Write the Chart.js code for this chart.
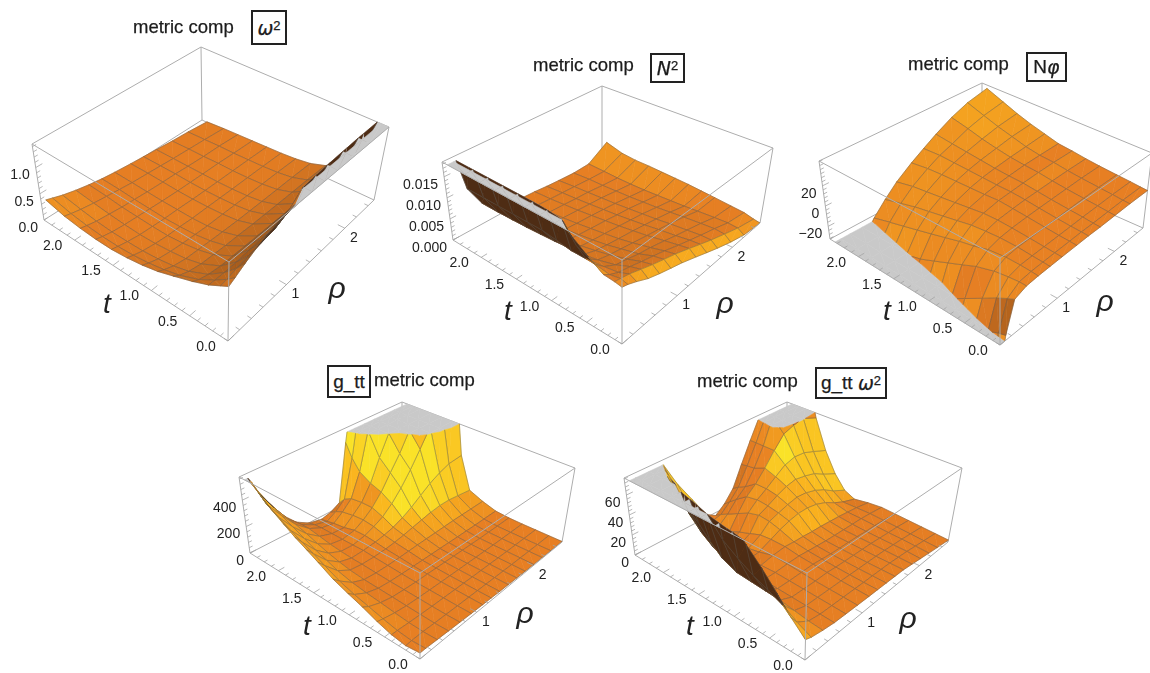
<!DOCTYPE html>
<html>
<head>
<meta charset="utf-8">
<title>metric comp</title>
<script src="https://cdn.jsdelivr.net/npm/chart.js@4/dist/chart.umd.min.js"></script>
<style>
  html, body { margin: 0; padding: 0; background: #fff; }
  #wrap { position: relative; width: 1150px; height: 673px; overflow: hidden; filter: blur(0.5px); }
  #plot { position: absolute; left: 0; top: 0; }
  .ttl { position: absolute; font: 18.5px "Liberation Sans", Arial, sans-serif; color: #1c1c1c; white-space: nowrap; line-height: 22px; -webkit-text-stroke: .25px #1c1c1c; }
  .bx { position: absolute; box-sizing: border-box; border: 2px solid #222; background: #fff; color: #1c1c1c;
        font: 19px "Liberation Sans", Arial, sans-serif; display: flex; align-items: center; justify-content: center; white-space: nowrap; -webkit-text-stroke: .25px #1c1c1c; }
  .bx i { font-family: "DejaVu Sans", sans-serif; }
  .bx sup { font-size: 13px; line-height: 0; position: relative; top: -2px; vertical-align: super; }
</style>
</head>
<body>
<div id="wrap"><canvas id="plot" width="1150" height="673"></canvas></div>
<script>
// sample positions, surfaces 1-3
const tA = [0, .1, .25, .45, .7, .9, 1.1, 1.3, 1.5, 1.7, 1.9, 2.1, 2.33];
const rhoA = [0, .1, .25, .45, .65, .85, 1.05, 1.3, 1.5, 1.7, 1.95, 2.2, 2.5];
// sample positions, surfaces 4-5
const tB = [0, .2, .4, .6, .8, 1, 1.2, 1.4, 1.55, 1.7, 1.85, 2, 2.15, 2.25, 2.33];
const rhoB = [0, .1, .3, .5, .7, .9, 1.1, 1.25, 1.4, 1.55, 1.7, 1.85, 2, 2.15, 2.3, 2.5];

const omega2 = [
  [1.00, 1.06, 1.16, 1.28, 1.36, 1.42, 1.50, 1.70, 1.90, 2.10, 2.40, 2.70, 3.00],
  [.92, .94, .99, 1.03, 1.07, 1.11, 1.22, 1.50, 1.56, 1.60, 1.64, 1.68, 1.70],
  [.80, .79, .78, .78, .80, .81, .84, .88, .90, .92, .94, .95, .95],
  [.68, .62, .57, .53, .52, .51, .50, .49, .48, .47, .47, .46, .46],
  [.55, .47, .40, .35, .33, .31, .30, .28, .27, .26, .25, .24, .22],
  [.45, .39, .32, .27, .25, .23, .21, .19, .18, .17, .16, .15, .13],
  [.38, .33, .27, .23, .20, .18, .16, .15, .14, .13, .12, .11, .09],
  [.33, .29, .24, .20, .17, .16, .14, .13, .12, .11, .10, .09, .07],
  [.30, .27, .23, .19, .17, .15, .14, .12, .11, .10, .09, .08, .06],
  [.30, .27, .23, .20, .18, .16, .14, .12, .11, .10, .09, .07, .05],
  [.32, .29, .25, .22, .19, .17, .15, .13, .12, .10, .08, .07, .04],
  [.36, .33, .29, .25, .22, .19, .16, .14, .12, .10, .08, .06, .03],
  [.45, .41, .35, .29, .24, .20, .17, .14, .12, .10, .07, .05, .01]
];
// N^2 in thousandths
const nSquared = [
  [12.5, 12.1, 11.2, 9.8, 8.8, 7.9, 7, 5.6, 4.4, 3.2, 1.8, .6, 0],
  [12.8, 12.5, 12, 11, 10, 9.1, 8.2, 6.8, 5.6, 4.4, 3, 1.6, .3],
  [13, 12, 11, 10.3, 9.4, 8.6, 7.7, 6.4, 5.4, 4.4, 3.2, 1.8, .9],
  [15, 12.5, 10.5, 8.9, 8.2, 7.4, 6.8, 5.8, 4.9, 4.1, 3, 1.7, 1.2],
  [18, 14.5, 10, 7.8, 7, 6.4, 5.8, 5, 4.4, 3.7, 2.7, 1.5, 1.6],
  [22, 19, 10, 7.2, 6.2, 5.6, 5.1, 4.5, 3.9, 3.3, 2.4, 1.3, 1.9],
  [24, 20.5, 10.5, 6.9, 5.5, 5, 4.6, 4, 3.5, 3, 2.1, 1.2, 2.2],
  [25, 21, 11, 6.6, 5, 4.5, 4.1, 3.6, 3.1, 2.7, 1.9, 1.1, 2.4],
  [25, 21, 11, 6.4, 4.6, 4, 3.6, 3.2, 2.8, 2.4, 1.7, 1, 2.6],
  [25, 21, 11, 6.2, 4.2, 3.5, 3.2, 2.8, 2.5, 2.2, 1.6, 1, 2.8],
  [25, 21, 11, 6.1, 4, 3.2, 2.8, 2.5, 2.2, 2, 1.5, 1.1, 2.9],
  [25, 21, 11, 6, 4, 3, 2.5, 2.2, 2, 1.8, 1.5, 1.3, 3.3],
  [25, 21, 11, 6, 4, 3, 2.2, 2, 1.7, 1.5, 1.3, 1.5, 4.5]
];
const nPhi = [
  [-60, -28, -2, 2, 3, 3.5, 4, 4.5, 5, 5, 5.5, 6, 6],
  [-60, -30, -5, 2, 3.5, 4, 4.5, 5, 5.5, 5.5, 6, 6.5, 6.5],
  [-60, -34, -10, 1, 4, 4.5, 5, 5.5, 6, 6.5, 7, 7.5, 7.5],
  [-70, -40, -18, -1, 4, 5.5, 6, 6.5, 7, 7.5, 8, 8.5, 8.5],
  [-80, -50, -28, -6, 2, 5.5, 7, 8, 8.5, 9, 9.5, 10, 10],
  [-80, -60, -36, -12, -2, 4.5, 7.5, 9, 10, 10.5, 11, 11.5, 11.5],
  [-90, -70, -45, -18, -5, 3, 7, 10, 11, 12, 13, 13.5, 13.5],
  [-90, -70, -50, -24, -9, 0, 5, 9, 11, 12.5, 14, 14.5, 15],
  [-90, -80, -55, -30, -13, -3, 3, 8.5, 11.5, 13.5, 15.5, 17, 19],
  [-100, -80, -60, -34, -17, -6, 1, 8, 12, 15, 18, 21, 23],
  [-100, -90, -65, -38, -21, -9, -1, 7.5, 12.5, 16.5, 21, 25, 28],
  [-100, -90, -70, -42, -25, -13, -3, 6.5, 13, 18, 25, 30, 34],
  [-100, -90, -75, -45, -30, -18, -7, 4, 12, 20, 29, 36, 41]
];
const gTT = [
  [40, 40, 36, 32, 28, 24, 20, 18, 15, 13, 11, 9, 7, 6, 5, 4],
  [30, 34, 34, 30, 27, 24, 21, 19, 17, 15, 13, 11, 9, 8, 7, 6],
  [45, 44, 38, 33, 29, 26, 23, 21, 19, 17, 15, 13, 11, 10, 9, 8],
  [75, 65, 48, 37, 32, 28, 25, 23, 21, 19, 17, 15, 13, 12, 11, 10],
  [115, 90, 60, 42, 35, 30, 28, 26, 24, 22, 20, 18, 16, 15, 14, 14],
  [150, 115, 70, 46, 38, 34, 32, 31, 30, 29, 28, 26, 25, 24, 24, 24],
  [190, 150, 85, 50, 42, 40, 42, 45, 48, 50, 52, 54, 56, 56, 56, 56],
  [250, 200, 110, 60, 48, 46, 50, 58, 70, 85, 100, 115, 125, 125, 115, 100],
  [295, 240, 140, 75, 50, 52, 60, 72, 90, 120, 160, 210, 260, 300, 330, 340],
  [340, 280, 170, 95, 56, 50, 68, 95, 130, 190, 270, 370, 490, 620, 780, 1000],
  [395, 320, 210, 120, 65, 50, 66, 105, 160, 240, 350, 460, 600, 800, 1000, 1200],
  [455, 370, 250, 150, 80, 50, 45, 100, 160, 270, 430, 580, 680, 850, 1050, 1300],
  [530, 420, 290, 175, 95, 50, 35, 85, 150, 320, 600, 800, 1000, 1100, 1200, 1400],
  [600, 480, 320, 185, 95, 45, 22, 60, 120, 400, 780, 1000, 1100, 1200, 1300, 1500],
  [640, 520, 340, 190, 90, 35, 15, 32, 70, 500, 900, 1100, 1200, 1300, 1400, 1600]
];
const gTTomega2 = [
  [18, 16, 14, 12.5, 12, 11.5, 11, 10.8, 10.5, 10.2, 9.8, 8.5, 7, 5.5, 4, 2],
  [30, 22, 15, 13, 12.5, 12, 11.5, 11, 10.8, 10.4, 10, 9, 8, 6.5, 5, 3],
  [45, 30, 17, 13.5, 13, 12.5, 12, 11.5, 11, 10.6, 10.2, 9.5, 8.5, 7.5, 6, 4],
  [60, 36, 19, 14, 13.5, 13, 13, 12, 11.5, 11, 10.5, 10, 9, 8, 7, 5],
  [74, 42, 20, 14.5, 14, 14, 14, 13, 12, 11.5, 11, 10.5, 9.5, 9, 8, 6],
  [90, 50, 21, 15, 14.5, 15, 15, 14, 13, 12, 11.5, 11, 10.5, 10, 9, 7],
  [105, 60, 22, 15, 14, 16, 17, 16, 15.5, 14.5, 14, 13, 12, 10.5, 9, 6],
  [115, 78, 28, 14, 11, 12, 17, 21, 24, 26, 26, 24, 20, 14, 9, 4],
  [125, 90, 38, 16, 10, 10, 16, 24, 27, 30, 32, 31, 28, 23, 16, 9],
  [135, 100, 50, 20, 8, 6, 12, 25, 29, 34, 38, 40, 38, 35, 29, 22],
  [145, 110, 60, 28, 10, 4, 8, 22, 30, 36, 43, 50, 53, 52, 48, 42],
  [155, 120, 80, 40, 15, 5, 3, 16, 28, 36, 47, 60, 72, 76, 78, 72],
  [165, 130, 90, 55, 28, 10, 3, 10, 20, 28, 42, 60, 85, 105, 115, 120],
  [175, 140, 100, 70, 42, 18, 4, 6, 14, 24, 41, 60, 82, 130, 150, 170],
  [185, 150, 105, 80, 52, 30, 8, 2, 9, 20, 40, 60, 80, 140, 160, 190]
];

const tTicks = [0, .5, 1, 1.5, 2];
const tTickLabels = ['0.0', '0.5', '1.0', '1.5', '2.0'];
const rhoTicks = [1, 2];
const rhoTickLabels = ['1', '2'];
const zTicks1 = [0, .5, 1], zLabels1 = ['0.0', '0.5', '1.0'];
const zTicks2 = [0, 5, 10, 15], zLabels2 = ['0.000', '0.005', '0.010', '0.015'];
const zTicks3 = [-20, 0, 20], zLabels3 = ['\u221220', '0', '20'];
const zTicks4 = [0, 200, 400], zLabels4 = ['0', '200', '400'];
const zTicks5 = [0, 20, 40, 60], zLabels5 = ['0', '20', '40', '60'];

const T_MAX = 2.4, RHO_MAX = 2.5;

// box corners on the page: [floor x, floor y, top x, top y]
const panels = [
  { ts: tA, rhos: rhoA, zs: omega2, zMin: 0, zMax: 1.45, zTicks: zTicks1, zLabels: zLabels1,
    front: [228, 341, 229, 262], left: [44, 220, 32, 144], right: [374, 200, 389, 127], back: [202, 120, 201, 47],
    tPos: [107, 305], rhoPos: [337, 290] },
  { ts: tA, rhos: rhoA, zs: nSquared, zMin: 0, zMax: 18.5, zTicks: zTicks2, zLabels: zLabels2,
    front: [622, 344, 622, 260], left: [453, 240, 442, 162], right: [760, 223, 773, 148], back: [602, 158, 602, 86],
    tPos: [508, 312], rhoPos: [725, 305] },
  { ts: tA, rhos: rhoA, zs: nPhi, zMin: -32.5, zMax: 44.5, zTicks: zTicks3, zLabels: zLabels3,
    front: [1000, 345, 1000, 258], left: [830, 239, 819, 161], right: [1143, 228, 1152, 153], back: [982, 157, 982, 83],
    tPos: [887, 312], rhoPos: [1105, 303] },
  { ts: tB, rhos: rhoB, zs: gTT, zMin: 0, zMax: 575, zTicks: zTicks4, zLabels: zLabels4,
    front: [420, 659, 420, 573], left: [250, 553, 239, 477], right: [562, 542, 575, 468], back: [402, 475, 402, 402],
    tPos: [307, 627], rhoPos: [525, 615] },
  { ts: tB, rhos: rhoB, zs: gTTomega2, zMin: 0, zMax: 77, zTicks: zTicks5, zLabels: zLabels5,
    front: [805, 660, 807, 573], left: [635, 555, 624, 478], right: [948, 542, 962, 468], back: [787, 475, 787, 402],
    tPos: [690, 627], rhoPos: [908, 620] }
];

const titles = [
  { text: 'metric comp', x: 133, y: 16, box: [251, 10, 36, 35], html: '<i>\u03c9</i><sup>2</sup>' },
  { text: 'metric comp', x: 533, y: 54, box: [650, 53, 35, 30], html: '<i>N</i><sup>2</sup>' },
  { text: 'metric comp', x: 908, y: 53, box: [1026, 52, 41, 30], html: 'N<i>\u03c6</i>' },
  { text: 'metric comp', x: 374, y: 369, box: [327, 365, 44, 33], html: 'g_tt' },
  { text: 'metric comp', x: 697, y: 370, box: [815, 367, 72, 32], html: 'g_tt&nbsp;<i>\u03c9</i><sup>2</sup>' }
];

// box coordinates to page, bilinear between the corners
function project(p, t, rho, z) {
  const u = t / T_MAX, v = rho / RHO_MAX, w = (z - p.zMin) / (p.zMax - p.zMin);
  const at = k => (1 - u) * (1 - v) * p.front[k] + u * (1 - v) * p.left[k] + (1 - u) * v * p.right[k] + u * v * p.back[k];
  const fx = at(0), fy = at(1), tx = at(2), ty = at(3);
  return { x: fx + (tx - fx) * w, y: fy + (ty - fy) * w };
}

// keep the side of a polygon below (sign 1) or above (sign -1) z = lim
function clipZ(poly, lim, sign) {
  const out = [];
  for (let i = 0; i < poly.length; i++) {
    const a = poly[i], b = poly[(i + 1) % poly.length];
    const ina = sign * (lim - a[2]) >= 0, inb = sign * (lim - b[2]) >= 0;
    if (ina) out.push(a);
    if (ina !== inb) {
      const f = (lim - a[2]) / (b[2] - a[2]);
      out.push([a[0] + (b[0] - a[0]) * f, a[1] + (b[1] - a[1]) * f, lim]);
    }
  }
  return out;
}

function mix(a, b, f) { return a.map((v, i) => Math.round(v + (b[i] - v) * f)); }
const C_DARK = [105, 58, 20], C_MID = [231, 127, 35], C_AMBER = [250, 178, 30], C_YELLOW = [250, 226, 40], C_UNDER = [78, 44, 20];

function shade(gt, gr) {
  let s;
  if (gt > .08) {
    s = Math.min(.7, gt * .9);
    if (gr > 0) s += .8 * Math.min(gt, gr);
  } else {
    s = Math.min(gt, 0) * .7 + Math.min(Math.max(gr, 0), .4) * .7 - Math.max(gr - .8, 0) * .6 + Math.min(gr, 0) * .2;
  }
  s = Math.max(-1, Math.min(1, s));
  let c;
  if (s < 0) c = mix(C_MID, C_DARK, -s);
  else if (s < .5) c = mix(C_MID, C_AMBER, s * 2);
  else c = mix(C_AMBER, C_YELLOW, (s - .5) * 2);
  return `rgb(${c[0]},${c[1]},${c[2]})`;
}

const datasets = [];
const lineDs = (pts, color, width) => ({ data: pts, showLine: true, fill: false, borderColor: color, borderWidth: width, pointRadius: 0, spanGaps: false });
const polyDs = (pts, color) => ({ data: pts.concat([pts[0]]), showLine: true, fill: 'shape', backgroundColor: color, borderColor: color, borderWidth: .6, pointRadius: 0 });
const BOX = '#adadad';
const MESH = 'rgba(88,84,80,0.5)';

panels.forEach(p => {
  const zTop = p.zMax, zBot = p.zMin;
  const range = p.zMax - p.zMin;
  const clampz = v => Math.max(p.zMin, Math.min(p.zMax, v));
  const edge = (a, b) => lineDs([{ x: a.x, y: a.y }, { x: b.x, y: b.y }], BOX, 1);
  const c = (t, rho, z) => project(p, t, rho, z);
  const toPts = poly => poly.map(v => c(v[0], v[1], v[2]));

  // hidden edges of the box go first
  [[[T_MAX, RHO_MAX, zBot], [T_MAX, RHO_MAX, zTop]], [[T_MAX, 0, zBot], [T_MAX, RHO_MAX, zBot]], [[0, RHO_MAX, zBot], [T_MAX, RHO_MAX, zBot]],
   [[T_MAX, 0, zTop], [T_MAX, RHO_MAX, zTop]], [[0, RHO_MAX, zTop], [T_MAX, RHO_MAX, zTop]], [[T_MAX, 0, zBot], [T_MAX, 0, zTop]], [[0, RHO_MAX, zBot], [0, RHO_MAX, zTop]]]
    .forEach(e => datasets.push(edge(c(...e[0]), c(...e[1]))));

  // surface cells, far ones first
  const cells = [];
  for (let i = 0; i < p.ts.length - 1; i++) {
    for (let j = 0; j < p.rhos.length - 1; j++) {
      const q = [[p.ts[i], p.rhos[j], p.zs[i][j]], [p.ts[i + 1], p.rhos[j], p.zs[i + 1][j]], [p.ts[i + 1], p.rhos[j + 1], p.zs[i + 1][j + 1]], [p.ts[i], p.rhos[j + 1], p.zs[i][j + 1]]];
      const meanZ = q.reduce((s, v) => s + clampz(v[2]), 0) / 4;
      const depth = (p.ts[i] + p.ts[i + 1]) / 2 / T_MAX + (p.rhos[j] + p.rhos[j + 1]) / 2 / RHO_MAX - .6 * (meanZ - p.zMin) / range;
      cells.push({ q, depth, i, j });
    }
  }
  cells.sort((a, b) => b.depth - a.depth);

  cells.forEach(({ q, i, j }) => {
    const dt = (p.ts[i + 1] - p.ts[i]) / T_MAX, dr = (p.rhos[j + 1] - p.rhos[j]) / RHO_MAX;
    const gt = .5 * ((clampz(q[1][2]) - clampz(q[0][2])) + (clampz(q[2][2]) - clampz(q[3][2]))) / range / dt * .3;
    const gr = .5 * ((clampz(q[3][2]) - clampz(q[0][2])) + (clampz(q[2][2]) - clampz(q[1][2]))) / range / dr * .3;
    const lit = shade(gt, gr);

    // two triangles, a folded cell cannot cross itself that way
    [[q[0], q[1], q[2]], [q[0], q[2], q[3]]].forEach(tri => {
      const a = c(tri[0][0], tri[0][1], clampz(tri[0][2])), b = c(tri[1][0], tri[1][1], clampz(tri[1][2])), d = c(tri[2][0], tri[2][1], clampz(tri[2][2]));
      const facing = (b.x - a.x) * (d.y - a.y) - (b.y - a.y) * (d.x - a.x);
      const col = facing < 0 ? `rgb(${C_UNDER.join(',')})` : lit;
      const capT = clipZ(tri, zTop, -1), capB = clipZ(tri, zBot, 1);
      if (capT.length > 2) datasets.push(polyDs(toPts(capT.map(v => [v[0], v[1], zTop])), '#c9c9c9'));
      if (capB.length > 2) datasets.push(polyDs(toPts(capB.map(v => [v[0], v[1], zBot])), '#c9c9c9'));
      const mid = clipZ(clipZ(tri, zTop, 1), zBot, -1);
      if (mid.length > 2) datasets.push(polyDs(toPts(mid), col));
    });

    // mesh lines on the cell sides, only where the surface is inside the box
    const meshPts = [];
    for (let k = 0; k < 4; k++) {
      const seg = clipZ(clipZ([q[k], q[(k + 1) % 4], q[k]], zTop, 1), zBot, -1);
      if (seg.length > 1) {
        toPts(seg.slice(0, 2)).forEach(v => meshPts.push(v));
        meshPts.push({ x: null, y: null });
      }
    }
    if (meshPts.length) datasets.push(lineDs(meshPts, MESH, .8));
  });

  // front edges of the box, in front of the surface
  [[[0, 0, zBot], [0, 0, zTop]], [[0, 0, zBot], [T_MAX, 0, zBot]], [[0, 0, zBot], [0, RHO_MAX, zBot]], [[0, 0, zTop], [T_MAX, 0, zTop]], [[0, 0, zTop], [0, RHO_MAX, zTop]]]
    .forEach(e => datasets.push(edge(c(...e[0]), c(...e[1]))));

  // ticks
  const TICK = '#a5a5a5';
  for (let v = 0; v <= T_MAX + 1e-6; v += .1) {
    const major = tTicks.some(x => Math.abs(x - v) < 1e-6);
    datasets.push(lineDs([c(v, 0, zBot), c(v, (major ? .04 : .022) * RHO_MAX, zBot)], TICK, .8));
  }
  for (let v = 0; v <= RHO_MAX + 1e-6; v += .2) {
    const major = rhoTicks.some(x => Math.abs(x - v) < 1e-6);
    datasets.push(lineDs([c(0, v, zBot), c((major ? .04 : .022) * T_MAX, v, zBot)], TICK, .8));
  }
  const zStep = (p.zTicks[1] - p.zTicks[0]) / 5;
  for (let v = p.zTicks[0] - 5 * zStep; v <= p.zMax; v += zStep) {
    if (v < p.zMin) continue;
    const major = p.zTicks.some(x => Math.abs(x - v) < zStep / 10);
    datasets.push(lineDs([c(T_MAX, 0, v), c(T_MAX, (major ? .04 : .022) * RHO_MAX, v)], TICK, .8));
  }
});

// tick labels and axis letters, placed through the chart's scales
const tickText = {
  id: 'tickText',
  afterDatasetsDraw(chart) {
    const ctx = chart.ctx, sx = chart.scales.x, sy = chart.scales.y;
    ctx.save();
    ctx.fillStyle = '#222';
    ctx.textBaseline = 'middle';
    panels.forEach(p => {
      ctx.font = '14px "Liberation Sans", Arial, sans-serif';
      ctx.textAlign = 'center';
      tTicks.forEach((v, i) => {
        const q = project(p, v, 0, p.zMin);
        ctx.fillText(tTickLabels[i], sx.getPixelForValue(q.x) - 22, sy.getPixelForValue(q.y) + 6);
      });
      rhoTicks.forEach((v, i) => {
        const q = project(p, 0, v, p.zMin);
        ctx.fillText(rhoTickLabels[i], sx.getPixelForValue(q.x) + 9, sy.getPixelForValue(q.y) + 10);
      });
      ctx.textAlign = 'right';
      p.zTicks.forEach((v, i) => {
        const q = project(p, T_MAX, 0, v);
        ctx.fillText(p.zLabels[i], sx.getPixelForValue(q.x) - 6, sy.getPixelForValue(q.y) + 8);
      });
      ctx.textAlign = 'center';
      ctx.font = 'italic 28px "Liberation Sans", Arial, sans-serif';
      ctx.fillText('t', sx.getPixelForValue(p.tPos[0]), sy.getPixelForValue(p.tPos[1]));
      ctx.font = 'italic 30px "Liberation Sans", Arial, sans-serif';
      ctx.fillText('\u03c1', sx.getPixelForValue(p.rhoPos[0]), sy.getPixelForValue(p.rhoPos[1]));
    });
    ctx.restore();
  }
};

// Chart.js paints the first dataset last, so flip the list
datasets.reverse();

new Chart(document.getElementById('plot'), {
  type: 'scatter',
  data: { datasets },
  plugins: [tickText],
  options: {
    responsive: false,
    animation: false,
    events: [],
    layout: { padding: 0 },
    plugins: { legend: { display: false }, tooltip: { enabled: false }, title: { display: false } },
    scales: {
      x: { type: 'linear', min: 0, max: 1150, display: false },
      y: { type: 'linear', min: 0, max: 673, reverse: true, display: false }
    }
  }
});

const wrap = document.getElementById('wrap');
titles.forEach(ti => {
  const s = document.createElement('div');
  s.className = 'ttl';
  s.style.left = ti.x + 'px';
  s.style.top = ti.y + 'px';
  s.textContent = ti.text;
  wrap.appendChild(s);
  const b = document.createElement('div');
  b.className = 'bx';
  b.style.left = ti.box[0] + 'px';
  b.style.top = ti.box[1] + 'px';
  b.style.width = ti.box[2] + 'px';
  b.style.height = ti.box[3] + 'px';
  b.innerHTML = ti.html;
  wrap.appendChild(b);
});
</script>
</body>
</html>
